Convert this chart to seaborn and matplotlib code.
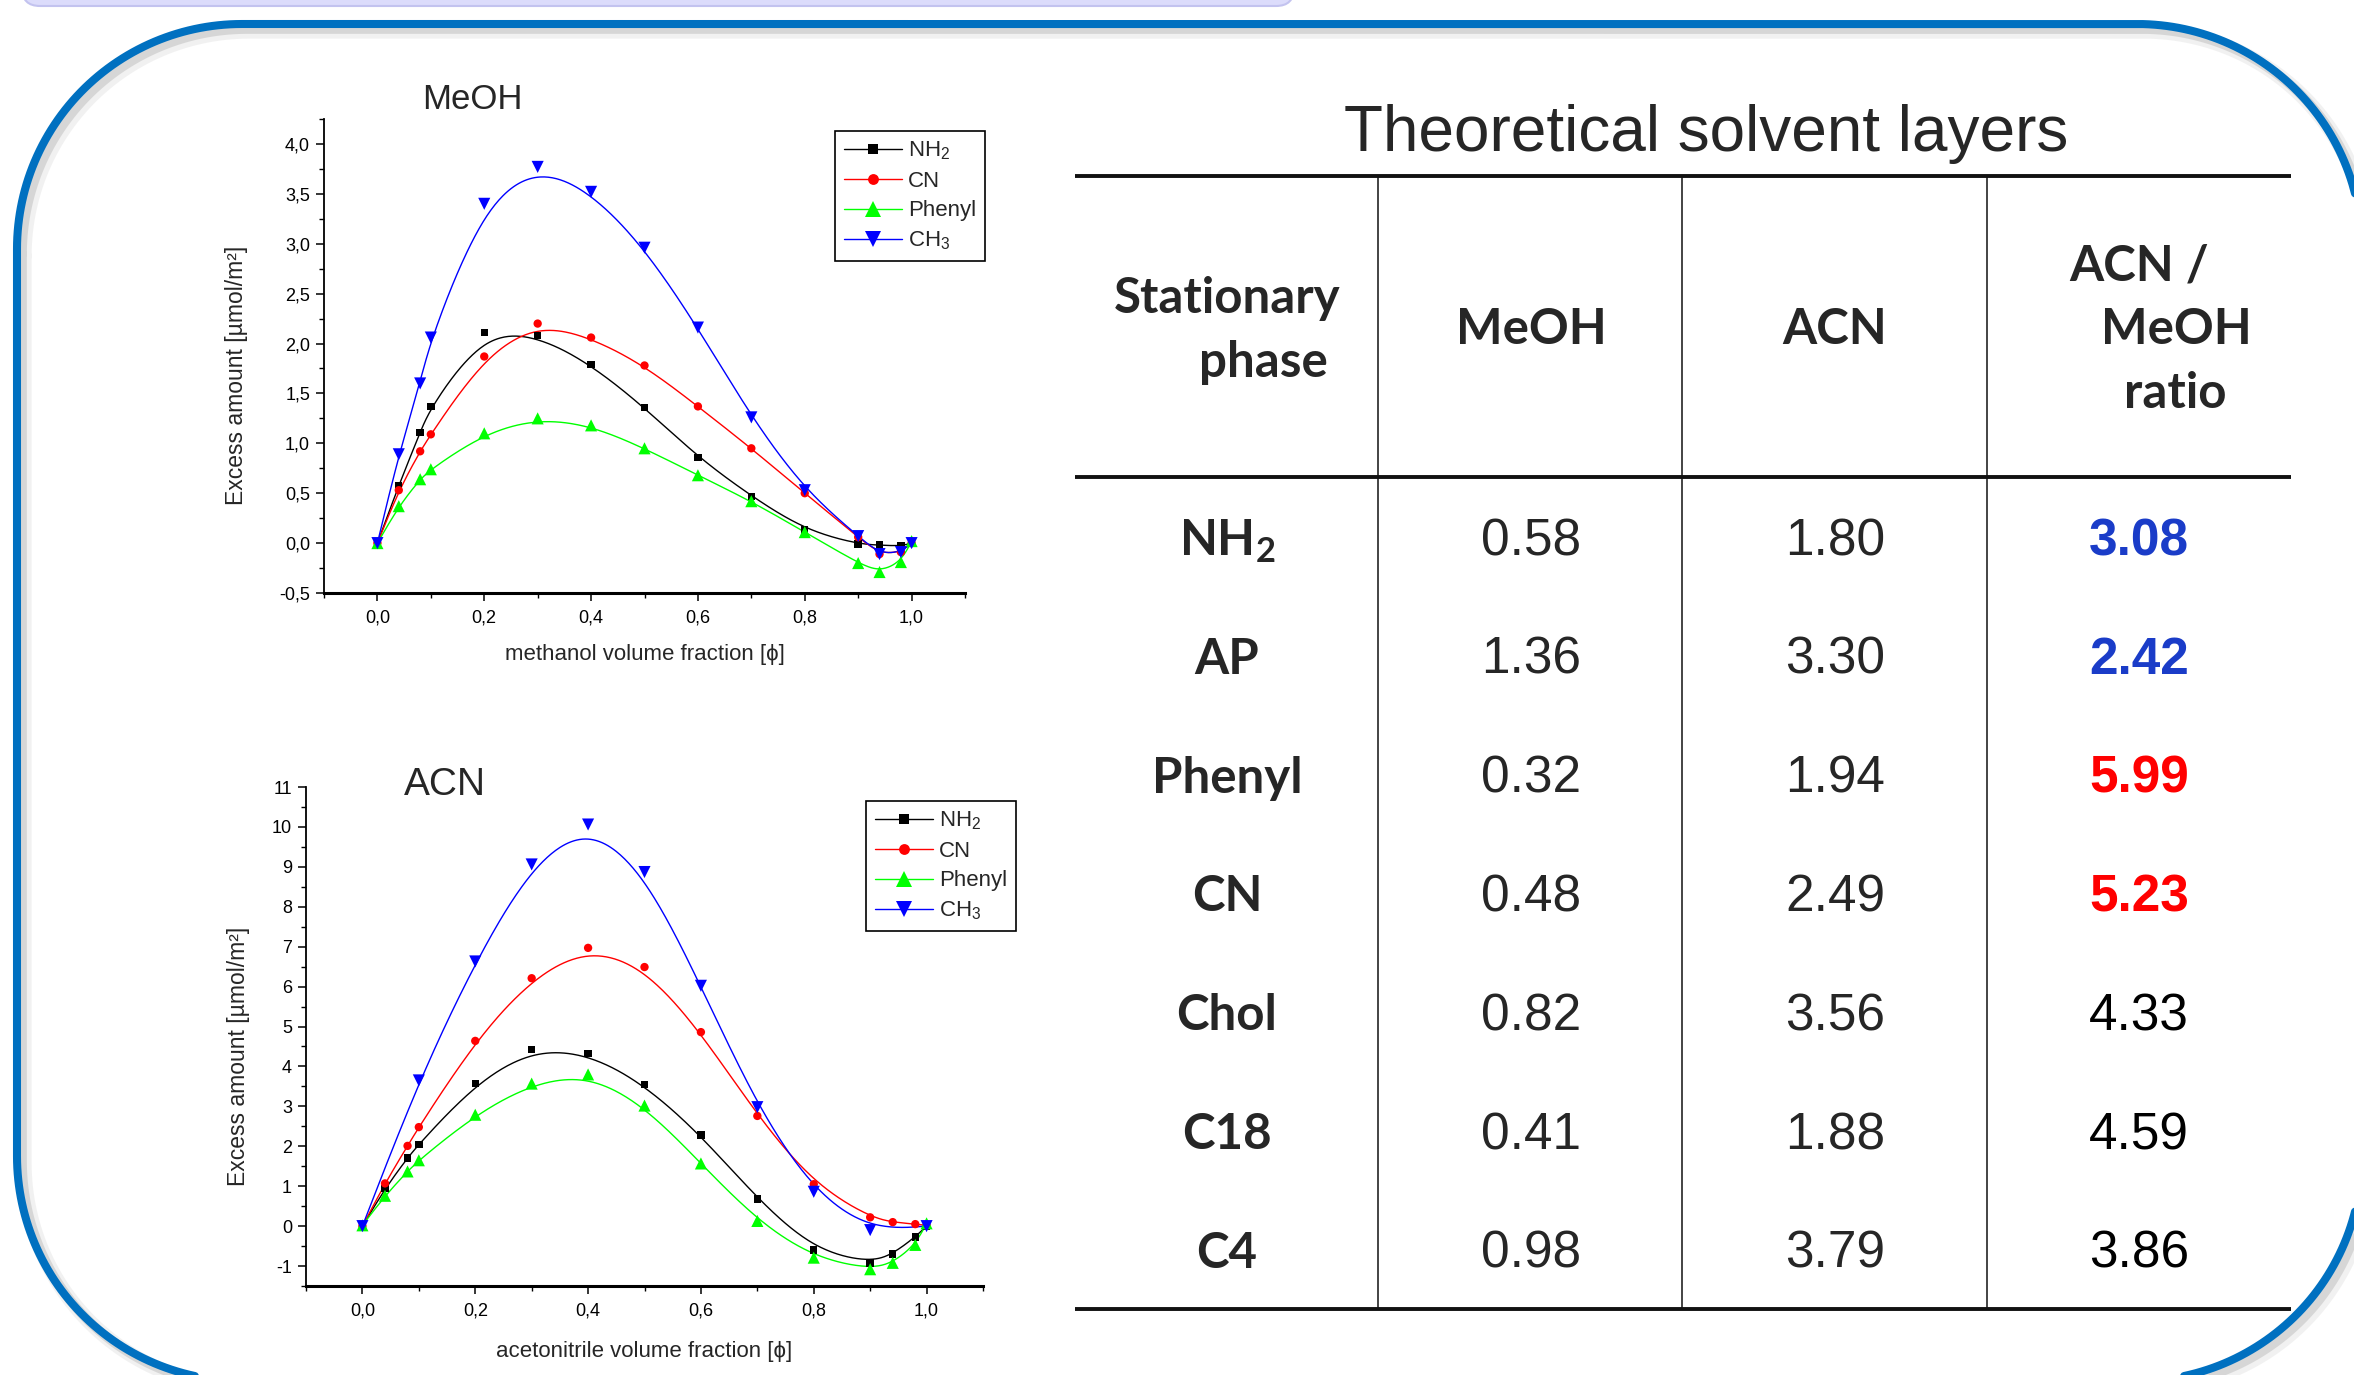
import numpy as np
import pandas as pd
import matplotlib
matplotlib.use("Agg")
import matplotlib.pyplot as plt
import seaborn as sns
from matplotlib.patches import FancyBboxPatch
from matplotlib.lines import Line2D
from matplotlib.ticker import MultipleLocator, FuncFormatter

# ---------------- data ----------------
phases = ["NH2", "CN", "Phenyl", "CH3"]
legend_labels = [r"$\mathregular{NH_2}$", "CN", "Phenyl", r"$\mathregular{CH_3}$"]

phi_full = [0, 0.04, 0.08, 0.1, 0.2, 0.3, 0.4, 0.5, 0.6, 0.7, 0.8, 0.9, 0.94, 0.98, 1.0]
phi_coarse = [0, 0.1, 0.2, 0.3, 0.4, 0.5, 0.6, 0.7, 0.8, 0.9, 1.0]

# methanol
meoh_nh2 = [0, 0.58, 1.11, 1.37, 2.11, 2.08, 1.79, 1.36, 0.86, 0.47, 0.13, -0.01, -0.02, -0.03, 0.0]
meoh_cn = [0, 0.53, 0.92, 1.09, 1.87, 2.20, 2.06, 1.78, 1.37, 0.95, 0.50, 0.06, -0.11, -0.09, 0.0]
meoh_phenyl = [0, 0.37, 0.64, 0.74, 1.10, 1.25, 1.18, 0.95, 0.68, 0.42, 0.11, -0.20, -0.29, -0.19, 0.02]
meoh_ch3 = [0, 0.89, 1.60, 2.06, 3.40, 3.77, 3.52, 2.96, 2.16, 1.26, 0.53, 0.07, -0.11, -0.09, 0.0]

# acetonitrile
acn_nh2 = [0, 0.94, 1.71, 2.05, 3.57, 4.42, 4.33, 3.55, 2.28, 0.68, -0.60, -0.92, -0.70, -0.27, 0.0]
acn_cn = [0, 1.07, 2.01, 2.48, 4.64, 6.21, 6.97, 6.49, 4.86, 2.76, 1.05, 0.22, 0.10, 0.05, 0.02]
acn_phenyl = [0.02, 0.76, 1.37, 1.65, 2.79, 3.57, 3.80, 3.02, 1.57, 0.13, -0.79, -1.08, -0.92, -0.47, 0.07]
acn_ch3 = [0, 3.65, 6.63, 9.06, 10.06, 8.87, 6.02, 2.98, 0.86, -0.10, 0.0]

# table
table_title = "Theoretical solvent layers"
table_columns = ["Stationary\nphase", "MeOH", "ACN", "ACN /\nMeOH\nratio"]
stationary_phases = [r"$\mathregular{NH_2}$", "AP", "Phenyl", "CN", "Chol", "C18", "C4"]
layers_meoh = [0.58, 1.36, 0.32, 0.48, 0.82, 0.41, 0.98]
layers_acn = [1.80, 3.30, 1.94, 2.49, 3.56, 1.88, 3.79]
ratio_acn_meoh = [3.08, 2.42, 5.99, 5.23, 4.33, 4.59, 3.86]

# ---------------- style ----------------
sns.set_style("ticks")
plt.rcParams["font.family"] = ["Liberation Sans", "DejaVu Sans"]
plt.rcParams["mathtext.fontset"] = "custom"
plt.rcParams["mathtext.rm"] = "Liberation Sans"
plt.rcParams["mathtext.it"] = "Liberation Sans:italic"
plt.rcParams["mathtext.bf"] = "Liberation Sans:bold"
plt.rcParams["axes.unicode_minus"] = False

colors = {"NH2": "#000000", "CN": "#ff0000", "Phenyl": "#00ff00", "CH3": "#0000ff"}
markers = {"NH2": "s", "CN": "o", "Phenyl": "^", "CH3": "v"}
msizes = {"NH2": 28, "CN": 36, "Phenyl": 76, "CH3": 76}

W, H = 2354, 1375
fig = plt.figure(figsize=(W / 100, H / 100), dpi=100)


def px_rect(l, t, r, b):
    return [l / W, 1 - b / H, (r - l) / W, (b - t) / H]


def bspline(xs, ys, n=40):
    P = np.column_stack([xs, ys]).astype(float)
    P = np.vstack([P[0], P[0], P, P[-1], P[-1]])
    t = np.linspace(0, 1, n, endpoint=False)
    b0 = (1 - t) ** 3 / 6
    b1 = (3 * t**3 - 6 * t**2 + 4) / 6
    b2 = (-3 * t**3 + 3 * t**2 + 3 * t + 1) / 6
    b3 = t**3 / 6
    segs = []
    for i in range(len(P) - 3):
        segs.append(b0[:, None] * P[i] + b1[:, None] * P[i + 1]
                    + b2[:, None] * P[i + 2] + b3[:, None] * P[i + 3])
    segs.append(P[-1][None, :])
    c = np.vstack(segs)
    return c[:, 0], c[:, 1]


def build(series):
    pts, crv = [], []
    for name, (xs, ys) in zip(phases, series):
        pts.append(pd.DataFrame({"phi": xs, "amount": ys, "phase": name}))
        cx, cy = bspline(xs, ys)
        crv.append(pd.DataFrame({"phi": cx, "amount": cy, "phase": name}))
    return pd.concat(pts, ignore_index=True), pd.concat(crv, ignore_index=True)


comma1 = FuncFormatter(lambda v, p: f"{round(v, 3) + 0.0:.1f}".replace(".", ","))
int0 = FuncFormatter(lambda v, p: f"{round(v, 3) + 0.0:.0f}")


def draw(ax, series, ylim, ymaj, ymin, yfmt, xlabel, ylab_x, xlab_y):
    pts, crv = build(series)
    sns.lineplot(data=crv, x="phi", y="amount", hue="phase", palette=colors,
                 sort=False, estimator=None, lw=1.0, legend=False, ax=ax, zorder=2)
    sns.scatterplot(data=pts, x="phi", y="amount", hue="phase", style="phase",
                    size="phase", palette=colors, markers=markers, sizes=msizes,
                    linewidth=0, legend=False, ax=ax, zorder=3)
    ax.set_xlim(-0.1, 1.1)
    ax.set_ylim(*ylim)
    ax.set_facecolor("none")
    ax.xaxis.set_major_locator(MultipleLocator(0.2))
    ax.xaxis.set_minor_locator(MultipleLocator(0.1))
    ax.xaxis.set_major_formatter(comma1)
    ax.yaxis.set_major_locator(MultipleLocator(ymaj))
    ax.yaxis.set_minor_locator(MultipleLocator(ymin))
    ax.yaxis.set_major_formatter(yfmt)
    for s in ["top", "right"]:
        ax.spines[s].set_visible(False)
    ax.spines["left"].set_linewidth(1.3)
    ax.spines["bottom"].set_linewidth(2.2)
    ax.spines["left"].set_color("black")
    ax.spines["bottom"].set_color("black")
    ax.tick_params(which="major", direction="out", length=6, width=1.1,
                   labelsize=13, colors="black")
    ax.tick_params(which="minor", direction="out", length=3.5, width=1.0, colors="black")
    ax.tick_params(axis="x", which="major", pad=6)
    ax.tick_params(axis="y", which="major", pad=4)
    ax.set_xlabel(xlabel, fontsize=16)
    ax.set_ylabel("Excess amount [µmol/m²]", fontsize=16.5)
    ax.yaxis.set_label_coords(ylab_x, 0.46)
    ax.xaxis.set_label_coords(0.5, xlab_y)
    ax.xaxis.label.set_va("top")


def rounded_rect(x0, y0, x1, y1, r, n=60):
    a = np.linspace(0, np.pi / 2, n)
    xs, ys = [], []
    xs += list(x0 + r - r * np.cos(a)); ys += list(y0 + r - r * np.sin(a))
    xs += list(x1 - r + r * np.sin(a)); ys += list(y0 + r - r * np.cos(a))
    xs += list(x1 - r + r * np.cos(a)); ys += list(y1 - r + r * np.sin(a))
    xs += list(x0 + r - r * np.sin(a)); ys += list(y1 - r + r * np.cos(a))
    xs.append(xs[0]); ys.append(ys[0])
    return np.array(xs), np.array(ys)


# ---------------- background frame & table ----------------
bg = fig.add_axes([0, 0, 1, 1])
bg.set_xlim(0, W)
bg.set_ylim(H, 0)
bg.axis("off")

bg.add_patch(FancyBboxPatch((22, -40), 1272, 46, boxstyle="round,pad=0,rounding_size=18",
                            fc="#dcdcfb", ec="#c3c3ef", lw=1.5))
fx, fy = rounded_rect(17, 24, 2362, 1381, 225)
for off, lw, a in [(7, 11, 0.10), (5, 7, 0.22)]:
    bg.plot(fx + off, fy + off, color="#7a7a7a", lw=lw, alpha=a, solid_joinstyle="round")
bg.plot(fx, fy, color="#0070c0", lw=5.8, solid_joinstyle="round")

# table rules
tx0, tx1 = 1075, 2291
for yy in [176, 477, 1309]:
    bg.plot([tx0, tx1], [yy, yy], color="#111111", lw=2.8, solid_capstyle="butt")
for xx in [1378, 1682, 1987]:
    bg.plot([xx, xx], [176, 1309], color="#111111", lw=1.1)

bg.text(1706, 151, table_title, ha="center", va="baseline", fontsize=46)

col_x = [1227, 1531, 1835, 2139]
hdr_font = dict(family=["Lato", "DejaVu Sans"], weight="bold", fontsize=35.5)
line_offsets = {0: [0, 36], 3: [0, 37, 36]}
for ci, col in enumerate(table_columns):
    lines = col.split("\n")
    n = len(lines)
    for li, txt in enumerate(lines):
        base = 344 + (li - (n - 1) / 2) * 64 if n != 2 else 313 + li * 64
        dx = line_offsets.get(ci, [0] * n)[li]
        bg.text(col_x[ci] + dx, base, txt, ha="center", va="baseline", **hdr_font)

ratio_colors = ["#1a3cc8", "#1a3cc8", "#ff0000", "#ff0000", "black", "black", "black"]
for ri, name in enumerate(stationary_phases):
    base = 555 + ri * 118.8
    bg.text(col_x[0], base, name, ha="center", va="baseline", **hdr_font)
    bg.text(col_x[1], base, f"{layers_meoh[ri]:.2f}", ha="center", va="baseline", fontsize=37)
    bg.text(col_x[2], base, f"{layers_acn[ri]:.2f}", ha="center", va="baseline", fontsize=37)
    bold = ratio_colors[ri] != "black"
    bg.text(col_x[3], base, f"{ratio_acn_meoh[ri]:.2f}", ha="center", va="baseline",
            fontsize=37, color=ratio_colors[ri], weight="bold" if bold else "normal")

# ---------------- plots ----------------
ax1 = fig.add_axes(px_rect(324, 119, 965, 593))
draw(ax1,
     [(phi_full, meoh_nh2), (phi_full, meoh_cn), (phi_full, meoh_phenyl), (phi_full, meoh_ch3)],
     (-0.5, 4.25), 0.5, 0.25, comma1, "methanol volume fraction [ϕ]", -0.118, -0.108)

ax2 = fig.add_axes(px_rect(306, 787, 983, 1286))
draw(ax2,
     [(phi_full, acn_nh2), (phi_full, acn_cn), (phi_full, acn_phenyl), (phi_coarse, acn_ch3)],
     (-1.5, 11.0), 1, 0.5, int0, "acetonitrile volume fraction [ϕ]", -0.083, -0.11)

fig.text(472 / W, 1 - 109 / H, "MeOH", ha="center", va="baseline", fontsize=25)
fig.text(445 / W, 1 - 795 / H, "ACN", ha="center", va="baseline", fontsize=28)

handles = [Line2D([], [], color=colors[p], marker=markers[p], lw=1.0, markeredgewidth=0,
                  markersize=np.sqrt(msizes[p]) * 1.3) for p in phases]
for anchor in [(835, 131), (866, 801)]:
    leg = fig.legend(handles, legend_labels, loc="upper left",
                     bbox_to_anchor=(anchor[0] / W, 1 - anchor[1] / H),
                     frameon=True, fancybox=False, edgecolor="black", framealpha=1,
                     fontsize=16, handlelength=2.6, handletextpad=0.3, labelspacing=0.38,
                     borderpad=0.4, borderaxespad=0)
    leg.get_frame().set_linewidth(1.2)

fig.savefig("out.png", dpi=100)
